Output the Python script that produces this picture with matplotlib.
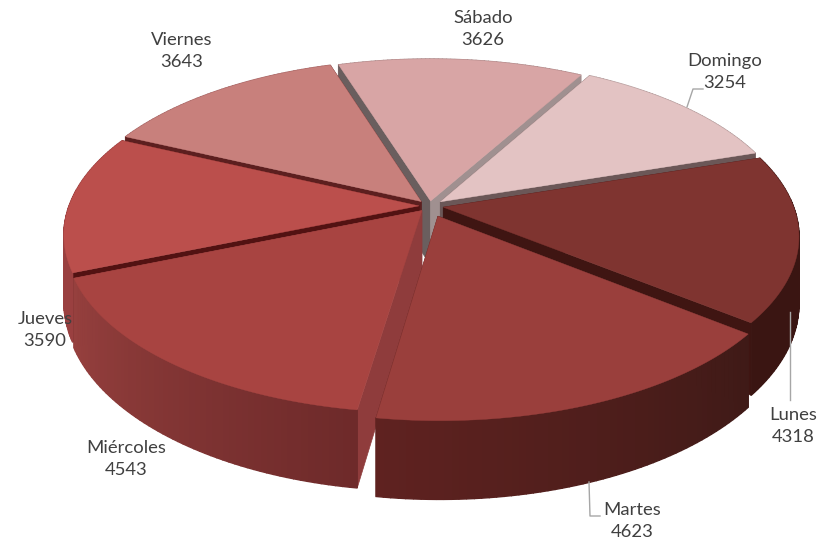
import numpy as np
import matplotlib
matplotlib.use('Agg')
import matplotlib.pyplot as plt
from matplotlib.colors import to_rgb

days = ['Lunes', 'Martes', 'Miércoles', 'Jueves', 'Viernes', 'Sábado', 'Domingo']
values = [4318, 4623, 4543, 3590, 3643, 3626, 3254]

# Slice styles
top_colors = ['#7f3430', '#9a3f3c', '#a84441', '#bb4f4c', '#c8807c', '#d8a5a5', '#e3c3c3']
wall_from = ['#3a1512', '#3f1a17', '#6e2a2a', '#9a4040', '#a06060', '#a58080', '#a89090']
wall_to = ['#3a1512', '#5f2220', '#96403e', '#9a4040', '#a06060', '#a58080', '#a89090']
wall_start = ['#4a1c1a', '#3f1a17', '#8f3c3c', '#521212', '#5c1f1f', '#6a5e5e', '#6b5757']
wall_end = ['#3f1512', '#5f2220', '#8f3c3c', '#521212', '#5c1f1f', '#a09090', '#6b5757']
explode = [0.04, 0.065, 0.035, 0.03, 0.036, 0.03, 0.04]

# Projection of the tilted disc
cx, cy = 429.5, 206
rx, ry = 350, 167
persp = 0.165
depth = 65
start_angle = 72


def project(u, v, z=0.0):
    s = 1.0 / (1.0 + persp * v)
    return cx + rx * u * s, cy - ry * v * s + depth * z * s


def mix(a, b, t):
    a, b = np.array(to_rgb(a)), np.array(to_rgb(b))
    return tuple(a + (b - a) * t)


fig = plt.figure(figsize=(8.28, 5.43), dpi=100)
ax = fig.add_axes([0, 0, 1, 1])
ax.set_xlim(0, 828)
ax.set_ylim(543, 0)
ax.axis('off')

sweep = 360.0 * np.array(values) / sum(values)
starts = start_angle + np.concatenate([[0], np.cumsum(sweep)[:-1]])
mids = starts + sweep / 2

# Painter's order, back of the disc first
order = np.argsort(-np.cos(np.radians(mids)))
for i in order:
    ox = explode[i] * np.sin(np.radians(mids[i]))
    oy = explode[i] * np.cos(np.radians(mids[i]))
    ang = np.radians(np.linspace(starts[i], starts[i] + sweep[i], 60))
    u = ox + np.sin(ang)
    v = oy + np.cos(ang)

    strips = []
    for k in range(len(ang) - 1):
        p = [project(u[k], v[k]), project(u[k + 1], v[k + 1]),
             project(u[k + 1], v[k + 1], 1), project(u[k], v[k], 1)]
        col = mix(wall_from[i], wall_to[i], k / (len(ang) - 2))
        strips.append((np.cos(ang[k]) > 0, p, col))

    # outer wall facing away goes under the radial walls
    for back, p, col in strips:
        if back:
            ax.fill(*zip(*p), color=col, lw=1.0, zorder=1)

    for k, col in ((0, wall_start[i]), (-1, wall_end[i])):
        p = [project(ox, oy), project(u[k], v[k]), project(u[k], v[k], 1), project(ox, oy, 1)]
        ax.fill(*zip(*p), color=col, lw=0.5, zorder=1)

    for back, p, col in strips:
        if not back:
            ax.fill(*zip(*p), color=col, lw=1.0, zorder=1)

    # top face
    tx, ty = project(np.r_[ox, u], np.r_[oy, v])
    ax.fill(tx, ty, color=top_colors[i], lw=0.3, zorder=1)

# Leader lines
leader = '#a6a6a6'
ax.plot([687, 693, 703], [107, 89, 89], color=leader, lw=1, zorder=2)
ax.plot([790, 790], [312, 400], color=leader, lw=1, zorder=2)
ax.plot([589, 590, 600], [482, 516, 516], color=leader, lw=1, zorder=2)

# Labels
label_pos = [(793, 426), (632, 521), (126, 459), (45, 330), (182, 51), (483, 29), (725, 72)]
for day, val, (x, y) in zip(days, values, label_pos):
    ax.text(x, y, f'{day}\n{val}', ha='center', va='center', fontsize=13.3,
            family='Lato', color='#404040', linespacing=1.39, zorder=3)

fig.savefig('out.png', dpi=100)
